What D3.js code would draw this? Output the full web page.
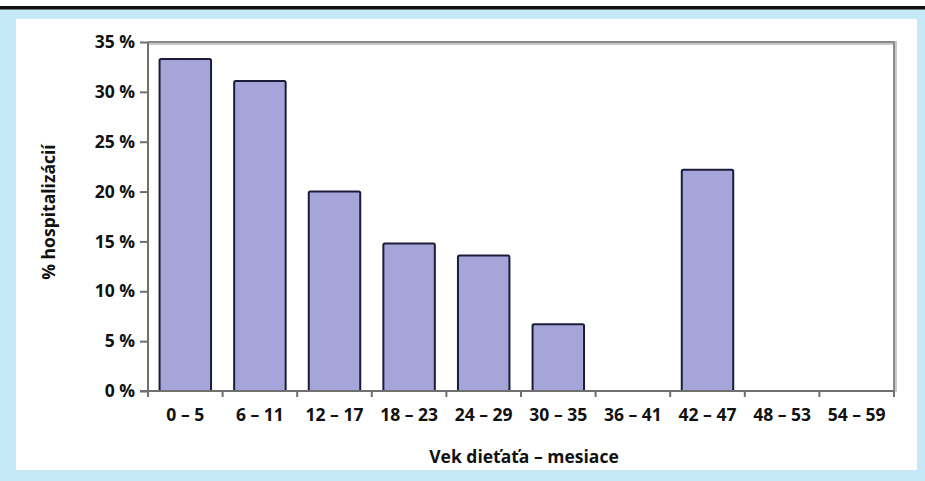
<!DOCTYPE html>
<html>
<head>
<meta charset="utf-8">
<script src="https://cdn.jsdelivr.net/npm/d3@7"></script>
<style>
  html, body { margin: 0; padding: 0; background: #ffffff; }
  svg { display: block; }
  text { font-family: "Open Sans", "Noto Sans", sans-serif; font-weight: 700; fill: #111; }
</style>
</head>
<body>
<svg id="chart" width="925" height="481"></svg>
<script>
// Age groups (months) and share of hospitalisations per group
const categories = ["0 – 5", "6 – 11", "12 – 17", "18 – 23", "24 – 29", "30 – 35", "36 – 41", "42 – 47", "48 – 53", "54 – 59"];
const values = [33.3, 31.1, 20.0, 14.8, 13.6, 6.7, 0, 22.2, 0, 0];
const yTicks = [0, 5, 10, 15, 20, 25, 30, 35];
const xTitle = "Vek dieťaťa – mesiace";
const yTitle = "% hospitalizácií";

const FONT = 17.5;
const svg = d3.select("#chart");

// Frame: black rule, light blue band, white card
svg.append("rect").attr("x", 0).attr("y", 9).attr("width", 925).attr("height", 472).attr("fill", "#c6e9f8");
svg.append("rect").attr("x", 0).attr("y", 6).attr("width", 925).attr("height", 3.5).attr("fill", "#111");
svg.append("rect").attr("x", 16).attr("y", 19).attr("width", 901).attr("height", 451).attr("fill", "#ffffff");

const plot = { left: 148, right: 894, top: 42, bottom: 391 };

const x = d3.scaleBand().domain(categories).range([plot.left, plot.right]).paddingInner(0.31).paddingOuter(0.155);
const xb = d3.scaleBand().domain(categories).range([plot.left, plot.right]);
const y = d3.scaleLinear().domain([0, 35]).range([plot.bottom, plot.top]);

// Plot frame (top and right edges)
svg.append("path")
  .attr("d", `M${plot.left},${plot.top}H${plot.right}V${plot.bottom}`)
  .attr("fill", "none").attr("stroke", "#c9c9c9").attr("stroke-width", 4).attr("transform", "translate(1,1)");
svg.append("path")
  .attr("d", `M${plot.left},${plot.top}H${plot.right}V${plot.bottom}`)
  .attr("fill", "none").attr("stroke", "#8a8a8a").attr("stroke-width", 2);

// Bars
svg.append("g").selectAll("rect")
  .data(values.map((v, i) => ({ c: categories[i], v })).filter(d => d.v > 0))
  .join("rect")
  .attr("x", d => x(d.c))
  .attr("y", d => y(d.v))
  .attr("width", x.bandwidth())
  .attr("height", d => y(0) - y(d.v))
  .attr("rx", 1.5)
  .attr("fill", "#a5a5d9")
  .attr("stroke", "#1c1c3a")
  .attr("stroke-width", 2);

// Y axis
const yAxis = d3.axisLeft(y).tickValues(yTicks).tickSize(8).tickPadding(5).tickFormat(d => d + " %");
const gy = svg.append("g").attr("transform", `translate(${plot.left},0)`).call(yAxis);
gy.select(".domain").attr("stroke", "#6f6f6f").attr("stroke-width", 2).attr("d", `M0,${plot.top}V${plot.bottom + 6}`);
gy.selectAll(".tick line").attr("stroke", "#6f6f6f").attr("stroke-width", 2);
gy.selectAll(".tick text").attr("font-size", FONT).attr("fill", "#111");

// X axis: ticks at band boundaries, labels at band centres
const gx = svg.append("g").attr("transform", `translate(0,${plot.bottom})`);
gx.append("line").attr("x1", plot.left - 8).attr("x2", plot.right).attr("y1", 0).attr("y2", 0)
  .attr("stroke", "#6f6f6f").attr("stroke-width", 2);
gx.selectAll("line.bt").data(categories).join("line").attr("class", "bt")
  .attr("x1", d => xb(d) + xb.bandwidth()).attr("x2", d => xb(d) + xb.bandwidth())
  .attr("y1", 0).attr("y2", 6).attr("stroke", "#6f6f6f").attr("stroke-width", 2);
gx.selectAll("text").data(categories).join("text")
  .attr("x", d => xb(d) + xb.bandwidth() / 2)
  .attr("y", 30)
  .attr("text-anchor", "middle")
  .attr("font-size", FONT)
  .text(d => d);

// Axis titles
svg.append("text").attr("x", 524).attr("y", 463).attr("text-anchor", "middle").attr("font-size", FONT).text(xTitle);
svg.append("text").attr("transform", "translate(55,212) rotate(-90)").attr("text-anchor", "middle").attr("font-size", FONT).text(yTitle);
</script>
</body>
</html>
